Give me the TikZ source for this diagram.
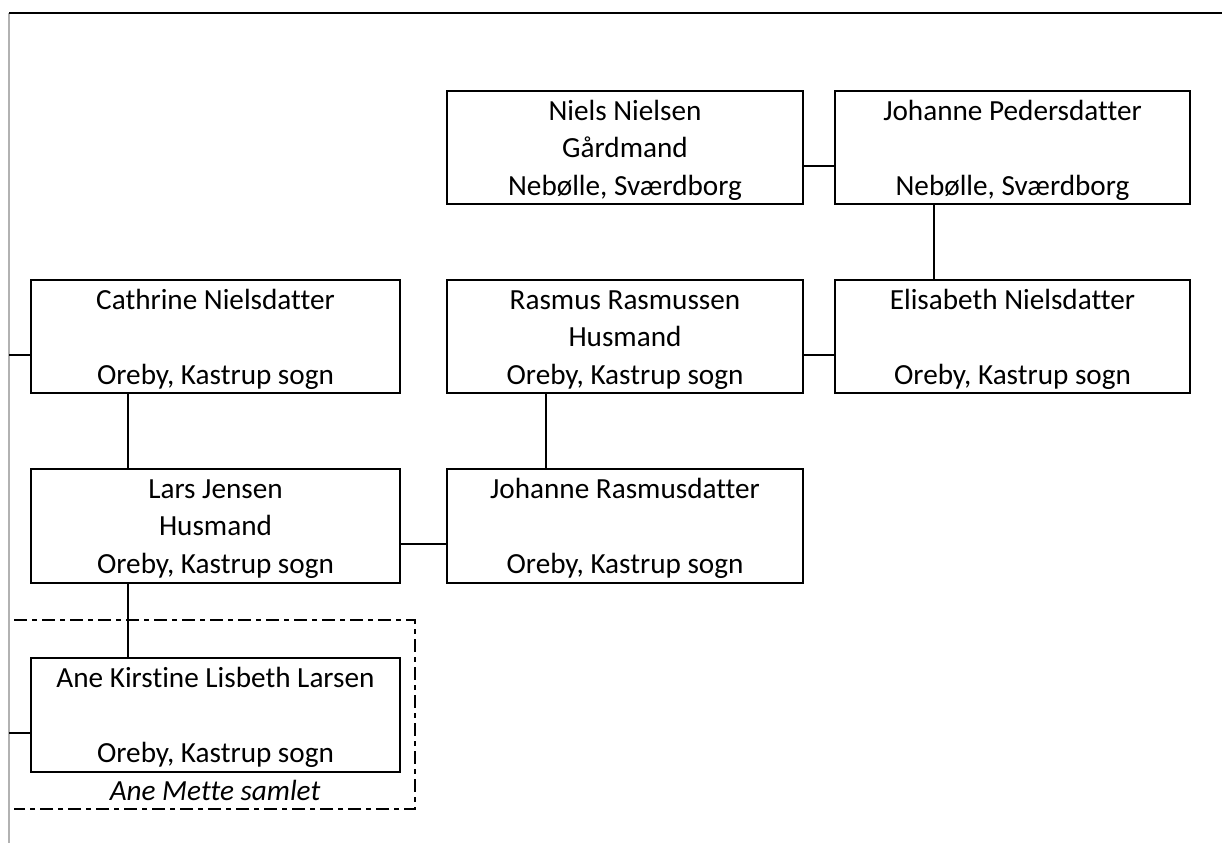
\documentclass[tikz,border=0pt]{standalone}
\usepackage{fontspec}
\setmainfont{Carlito}[Ligatures=NoCommon]
\tikzset{
  card/.style={draw, rectangle, line width=2.2pt, inner sep=0pt, outer sep=0pt},
  txt/.style={anchor=base, inner sep=0pt, font=\fontsize{29.2}{34}\selectfont},
  conn/.style={line width=2pt},
  frame/.style={line width=2pt, dash pattern=on 13pt off 5pt on 5pt off 5pt},
}
\newcommand\famcard[8]{%
  \node[card, minimum width={#4-#2}, minimum height={#5-#3}] (#1) at ({(#2+#4)/2},{(#3+#5)/2}) {};
  \node[txt] (#1-a) at ({(#2+#4)/2},{#3+29}) {#6};
  \node[txt] (#1-b) at ({(#2+#4)/2},{#3+66.5}) {#7};
  \node[txt] (#1-c) at ({(#2+#4)/2},{#3+104.5}) {#8};
}
\begin{document}
\begin{tikzpicture}[x=1pt,y=-1pt]
\useasboundingbox (0,0) rectangle (1222,843);
% page edges
\draw[gray!60, line width=1.2pt] (9,13) -- (9,843);
\draw[black, line width=2.8pt] (9,13) -- (1222,13);
% cards
\famcard{niels}{447}{91}{803}{204}{Niels Nielsen}{Gårdmand}{Nebølle, Sværdborg}
\famcard{johanneP}{835}{91}{1190}{204}{Johanne Pedersdatter}{}{Nebølle, Sværdborg}
\famcard{cathrine}{31}{280}{400}{393}{Cathrine Nielsdatter}{}{Oreby, Kastrup sogn}
\famcard{rasmus}{447}{280}{803}{393}{Rasmus Rasmussen}{Husmand}{Oreby, Kastrup sogn}
\famcard{elisabeth}{835}{280}{1190}{393}{Elisabeth Nielsdatter}{}{Oreby, Kastrup sogn}
\famcard{lars}{31}{469}{400}{583}{Lars Jensen}{Husmand}{Oreby, Kastrup sogn}
\famcard{johanneR}{447}{469}{803}{583}{Johanne Rasmusdatter}{}{Oreby, Kastrup sogn}
\famcard{ane}{31}{658}{400}{772}{Ane Kirstine Lisbeth Larsen}{}{Oreby, Kastrup sogn}
% couple connectors
\draw[conn] ([yshift=-18.5pt]niels.east) -- ([yshift=-18.5pt]johanneP.west);
\draw[conn] ([yshift=-18.5pt]rasmus.east) -- ([yshift=-18.5pt]elisabeth.west);
\draw[conn] ([yshift=-18pt]lars.east) -- ([yshift=-18pt]johanneR.west);
\coordinate (cl) at (9,355);
\coordinate (al) at (9,733);
\draw[conn] (cl) -- (cl -| cathrine.west);
\draw[conn] (al) -- (al -| ane.west);
% descent connectors
\draw[conn] ([xshift=-78.5pt]johanneP.south) -- ([xshift=-78.5pt]elisabeth.north);
\draw[conn] ([xshift=-79pt]rasmus.south) -- ([xshift=-79pt]johanneR.north);
\draw[conn] ([xshift=-87.5pt]cathrine.south) -- ([xshift=-87.5pt]lars.north);
\draw[conn] ([xshift=-87.5pt]lars.south) -- ([xshift=-87.5pt]ane.north);
% dashed frame
\coordinate (f1) at (14,620);
\coordinate (f2) at (415,620);
\coordinate (f3) at (415,809);
\coordinate (f4) at (14,809);
\draw[frame] (f1) -- (f2) -- (f3) -- (f4);
\node[txt, font=\fontsize{29.2}{34}\selectfont\itshape] (note) at (215,800) {Ane Mette samlet};
\end{tikzpicture}
\end{document}
